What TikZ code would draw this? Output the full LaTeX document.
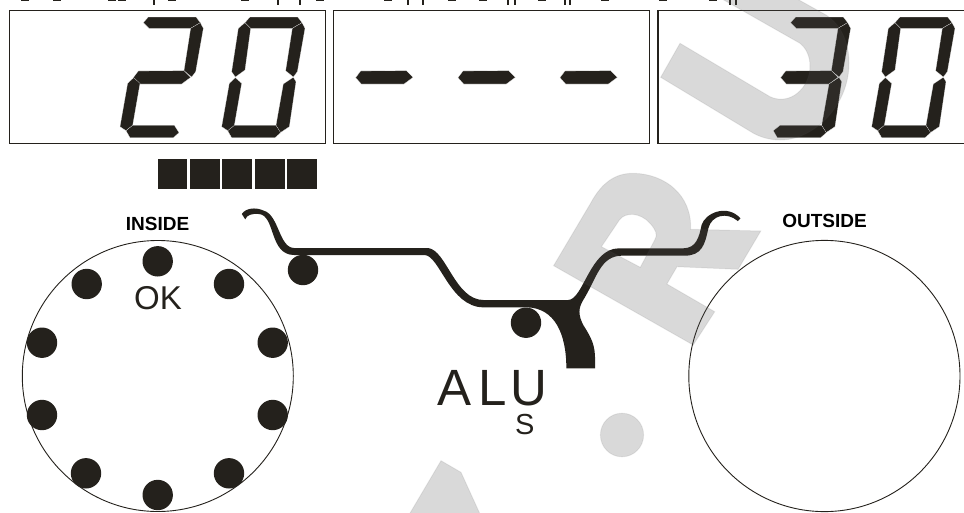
\documentclass[tikz,border=0pt]{standalone}
\usepackage{fontspec}
\setmainfont{Liberation Sans}
\usetikzlibrary{positioning}
\definecolor{segdark}{rgb}{0.14,0.13,0.11}
\definecolor{wmgray}{rgb}{0.32,0.32,0.32}

\newcommand{\sega}{(735,68)--(750,51)--(893,51)--(906,68)--(877,85)--(752,85)--cycle}
\newcommand{\segb}{(906,68)--(915,85)--(892,215)--(880,231)--(857,212)--(877,85)--cycle}
\newcommand{\segc}{(880,232)--(888,245)--(868,380)--(841,398)--(828,376)--(850,252)--cycle}
\newcommand{\segd}{(683,392)--(703,376)--(828,376)--(842,398)--(825,413)--(695,413)--cycle}
\newcommand{\sege}{(706,233)--(725,250)--(703,376)--(683,392)--(665,380)--(688,250)--cycle}
\newcommand{\segf}{(735,68)--(752,85)--(735,210)--(706,231)--(695,215)--(715,85)--cycle}
\newcommand{\segg}{(705,233)--(720,213)--(857,212)--(877,232)--(850,252)--(722,252)--cycle}

\begin{document}
\begin{tikzpicture}[x=1pt,y=-1pt,
   readout/.style={draw=segdark,line width=1.2pt,minimum width=316pt,minimum height=133pt,inner sep=0pt},
   seg/.style={fill=segdark,draw=white,line width=.15pt},
   blob/.style={fill=segdark},
   rim/.style={draw=segdark,line width=.9pt},
   wmark/.style={fill=wmgray,fill opacity=.22,draw=wmgray,draw opacity=.1,line width=1pt,even odd rule}]
  \useasboundingbox (0,0) rectangle (964,512);
  \foreach \tx in {25,57,112,122,172,245,320,388,452,483,542,605,663,713}
    \fill[segdark] (\tx-4,0) rectangle (\tx+4,1.2);
  \foreach \tx in {154,278,300,408,423,508,515,565,570,730,736}
    \fill[segdark] (\tx-1,0) rectangle (\tx+1,4.5);

  \node[readout] (boxa) at (167.5,77) {};
  \node[readout,right=7pt of boxa] (boxb) {};
  \node[readout,right=7pt of boxb] (boxc) {};

  \begin{scope}[x=1pt/3,y=-1pt/3]
    \foreach \dx/\lst in {-305/{a,b,g,e,d},0/{a,b,c,d,e,f},362/{g},669/{g},975/{g},1637/{a,b,g,c,d},1950/{a,b,c,d,e,f}}
      \foreach \s in \lst {
        \expandafter\let\expandafter\segpath\csname seg\s\endcsname
        \path[seg,shift={(\dx,0)}] \segpath;
      }
  \end{scope}
  \foreach \xa/\xb in {158.3/186.7,190/220,221.7/251.7,255/285,286.7/316.7}
    \fill[blob] (\xa,158.7) rectangle (\xb,189);

  \node (inside) at (157.5,224) {\fontsize{19}{19}\selectfont\bfseries INSIDE};
  \node (outside) at (824.5,221) {\fontsize{19}{19}\selectfont\bfseries OUTSIDE};
  \node[text=segdark] (ok) at (158,298.3) {\fontsize{33}{33}\selectfont OK};
  \node[text=segdark,inner sep=0pt] (alu) at (492.3,388) {\fontsize{51}{51}\selectfont A\kern7pt L\kern4pt U};
  \node[text=segdark,inner sep=0pt] (sub) at (524.7,425) {\fontsize{29}{29}\selectfont S};

  \draw[rim] (157.8,376) circle[radius=135.5];
  \draw[rim] (824.4,376) circle[radius=135.6];
  \foreach \px/\py in {157.7/261.3,86.7/284,229/284,42/342.7,272.7/342.7,42/415,272.7/415,86/473.3,229/473.3,157.7/495,303/270,526/322.7}
    \fill[blob] (\px,\py) circle[radius=15.2];

  \begin{scope}[shift={(230,190)},x=1pt/2.958,y=-1pt/3]
    \fill[blob] (35,72) .. controls (45,55) and (75,50) .. (100,62)
      .. controls (145,75) and (145,174) .. (190,174) -- (585,174)
      .. controls (640,178) and (665,330) .. (750,330) -- (1000,330)
      .. controls (1045,330) and (1065,175) .. (1150,175) -- (1340,175)
      .. controls (1380,175) and (1388,140) .. (1395,105)
      .. controls (1405,70) and (1470,40) .. (1510,85) -- (1502,93)
      .. controls (1470,65) and (1425,75) .. (1415,115)
      .. controls (1405,165) and (1395,197) .. (1345,197) -- (1160,197)
      .. controls (1095,197) and (1085,265) .. (1045,330)
      .. controls (1030,355) and (1030,375) .. (1045,405)
      .. controls (1070,445) and (1080,465) .. (1080,510) -- (1080,535) -- (995,535)
      .. controls (995,430) and (960,355) .. (880,352) -- (750,352)
      .. controls (650,352) and (620,195) .. (575,195) -- (190,195)
      .. controls (115,195) and (135,75) .. (85,72)
      .. controls (65,70) and (50,75) .. (45,88) -- cycle;
  \end{scope}

  \path[wmark] (680,43.3) -- (770,96.7) .. controls (790,106) and (810,88) .. (810,66)
    .. controls (810,56) and (806,48) .. (800,43.3) -- (715,-5) -- (790,-5) -- (826,15)
    .. controls (842,25) and (849,44) .. (849,63)
    .. controls (849,105) and (815,140) .. (780,140)
    .. controls (770,140) and (760,137) .. (753,133) -- (660.7,77.3) -- cycle;
  \path[wmark] (553.6,265.7) -- (590.6,203.3) .. controls (602,182) and (616,173) .. (633.8,173.3)
    .. controls (665,174) and (692,195) .. (690.6,229.3) -- (760.8,231) -- (738.1,269.3)
    -- (677,266.7) -- (666.9,284) -- (714.7,311.7) -- (693.2,345) -- cycle
    (601.4,246.7) -- (619.4,220) .. controls (625,212) and (640,212) .. (650,223.3)
    .. controls (656,230) and (658,235) .. (654.7,240) -- (640.3,267.3) -- cycle;
  \path[wmark] (441,460.7) -- (461,472.3) -- (485,525) -- (403,525) -- cycle;
  \path[wmark] (622,435) circle[x radius=21.6,y radius=21.8];
\end{tikzpicture}
\end{document}
